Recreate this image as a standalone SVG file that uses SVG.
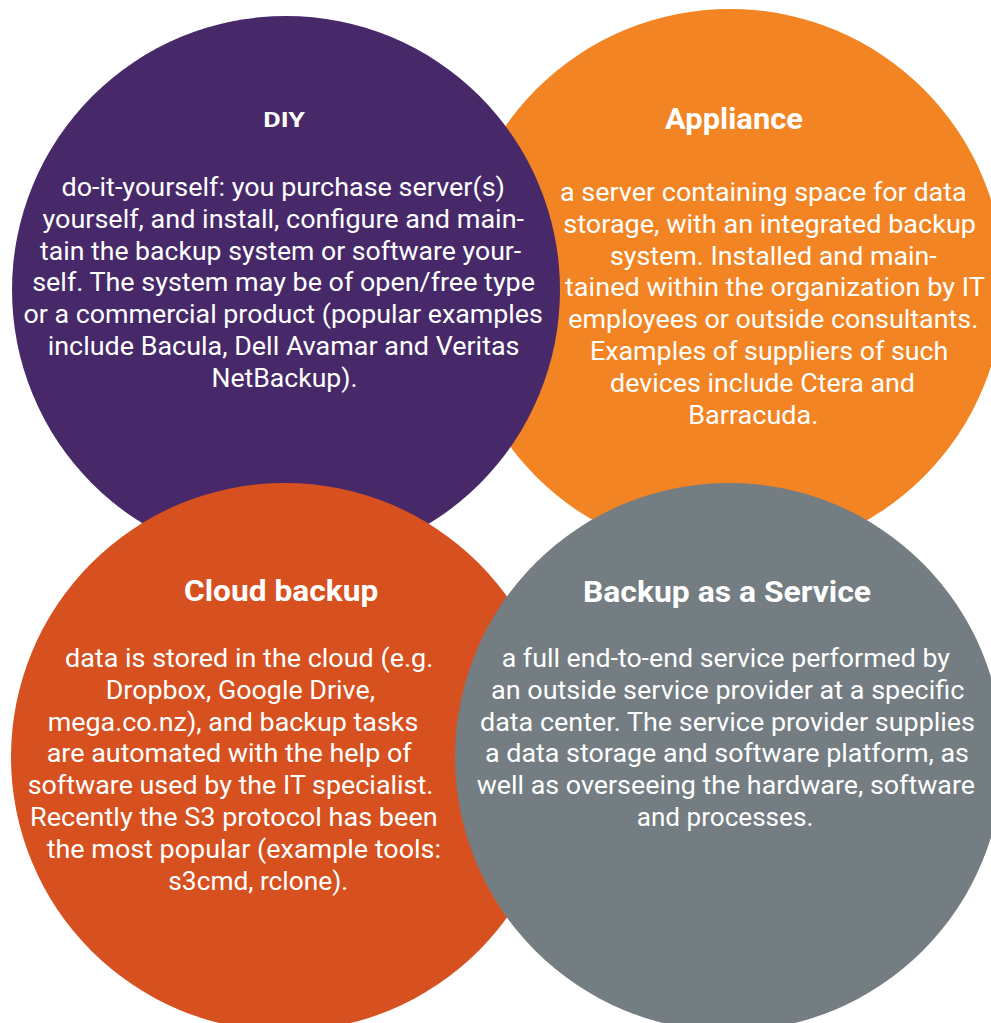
<svg xmlns="http://www.w3.org/2000/svg" width="991" height="1023" viewBox="0 0 991 1023">
<style>
.t{font-family:Roboto,"Liberation Sans",sans-serif;fill:#fff}
.b{font-size:25px}
.h{font-size:30px;font-weight:bold}
.hs{font-size:20.5px;font-weight:bold}
</style>
<rect width="991" height="1023" fill="#fff"/>
<g id="appliance">
<circle cx="730" cy="283" r="274" fill="#f38423"/>
<text class="t h" x="665" y="129.3" textLength="138" lengthAdjust="spacingAndGlyphs">Appliance</text>
<text class="t b" x="560" y="200.7" textLength="406.7" lengthAdjust="spacingAndGlyphs">a server containing space for data</text>
<text class="t b" x="563.3" y="232.6" textLength="412.7" lengthAdjust="spacingAndGlyphs">storage, with an integrated backup</text>
<text class="t b" x="610" y="264.5" textLength="326.7" lengthAdjust="spacingAndGlyphs">system. Installed and main-</text>
<text class="t b" x="565" y="296.4" textLength="420" lengthAdjust="spacingAndGlyphs">tained within the organization by IT</text>
<text class="t b" x="568.3" y="328.3" textLength="410" lengthAdjust="spacingAndGlyphs">employees or outside consultants.</text>
<text class="t b" x="590" y="360.2" textLength="358.3" lengthAdjust="spacingAndGlyphs">Examples of suppliers of such</text>
<text class="t b" x="610" y="392.1" textLength="305" lengthAdjust="spacingAndGlyphs">devices include Ctera and</text>
<text class="t b" x="688.3" y="424" textLength="130" lengthAdjust="spacingAndGlyphs">Barracuda.</text>
</g>
<g id="diy">
<circle cx="286" cy="290" r="274" fill="#47296a"/>
<text class="t hs" x="263.3" y="127" textLength="41.7" lengthAdjust="spacingAndGlyphs">DIY</text>
<text class="t b" x="61.5" y="196.3" textLength="443.5" lengthAdjust="spacingAndGlyphs">do-it-yourself: you purchase server(s)</text>
<text class="t b" x="42.5" y="228" textLength="481.5" lengthAdjust="spacingAndGlyphs">yourself, and install, configure and main-</text>
<text class="t b" x="40.1" y="259.7" textLength="481.1" lengthAdjust="spacingAndGlyphs">tain the backup system or software your-</text>
<text class="t b" x="32.2" y="291.4" textLength="502.8" lengthAdjust="spacingAndGlyphs">self. The system may be of open/free type</text>
<text class="t b" x="23.6" y="323.1" textLength="519.3" lengthAdjust="spacingAndGlyphs">or a commercial product (popular examples</text>
<text class="t b" x="47.7" y="354.8" textLength="471.8" lengthAdjust="spacingAndGlyphs">include Bacula, Dell Avamar and Veritas</text>
<text class="t b" x="211.5" y="386.5" textLength="146" lengthAdjust="spacingAndGlyphs">NetBackup).</text>
</g>
<g id="cloud">
<circle cx="285" cy="757" r="274" fill="#d6511f"/>
<text class="t h" x="184" y="600.7" textLength="194.3" lengthAdjust="spacingAndGlyphs">Cloud backup</text>
<text class="t b" x="65" y="667" textLength="368.3" lengthAdjust="spacingAndGlyphs">data is stored in the cloud (e.g.</text>
<text class="t b" x="105.7" y="698.8" textLength="269.3" lengthAdjust="spacingAndGlyphs">Dropbox, Google Drive,</text>
<text class="t b" x="47.7" y="730.6" textLength="370.6" lengthAdjust="spacingAndGlyphs">mega.co.nz), and backup tasks</text>
<text class="t b" x="46.7" y="762.4" textLength="365" lengthAdjust="spacingAndGlyphs">are automated with the help of</text>
<text class="t b" x="27.7" y="794.2" textLength="405.6" lengthAdjust="spacingAndGlyphs">software used by the IT specialist.</text>
<text class="t b" x="30" y="826" textLength="407.7" lengthAdjust="spacingAndGlyphs">Recently the S3 protocol has been</text>
<text class="t b" x="46.7" y="857.8" textLength="394.3" lengthAdjust="spacingAndGlyphs">the most popular (example tools:</text>
<text class="t b" x="168.3" y="889.6" textLength="180" lengthAdjust="spacingAndGlyphs">s3cmd, rclone).</text>
</g>
<g id="baas">
<circle cx="729" cy="757" r="274" fill="#737d82"/>
<text class="t h" x="583" y="602" textLength="288" lengthAdjust="spacingAndGlyphs">Backup as a Service</text>
<text class="t b" x="501.7" y="667" textLength="448.3" lengthAdjust="spacingAndGlyphs">a full end-to-end service performed by</text>
<text class="t b" x="491" y="698.8" textLength="473.3" lengthAdjust="spacingAndGlyphs">an outside service provider at a specific</text>
<text class="t b" x="480" y="730.6" textLength="495" lengthAdjust="spacingAndGlyphs">data center. The service provider supplies</text>
<text class="t b" x="485" y="762.4" textLength="484" lengthAdjust="spacingAndGlyphs">a data storage and software platform, as</text>
<text class="t b" x="476.7" y="794.2" textLength="498.3" lengthAdjust="spacingAndGlyphs">well as overseeing the hardware, software</text>
<text class="t b" x="636.7" y="826" textLength="176.6" lengthAdjust="spacingAndGlyphs">and processes.</text>
</g>
<g id="connectors"/>
</svg>
